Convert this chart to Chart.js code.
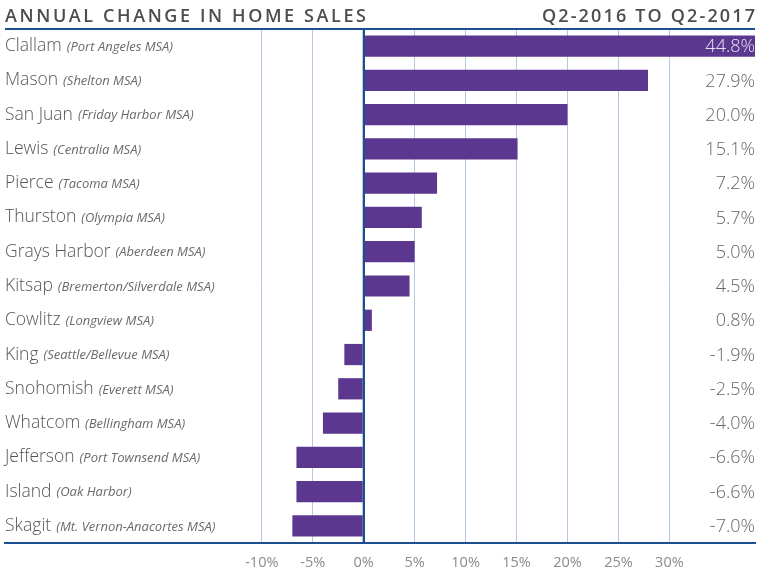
<!DOCTYPE html>
<html>
<head>
<meta charset="utf-8">
<script src="https://cdn.jsdelivr.net/npm/chart.js@4.4.0/dist/chart.umd.min.js"></script>
<style>
  html, body { margin: 0; padding: 0; background: #ffffff; }
  #wrap { position: relative; width: 760px; height: 579px; }
</style>
</head>
<body>
<div id="wrap"><canvas id="c" width="760" height="579"></canvas></div>
<script>
const titleLeft = 'ANNUAL CHANGE IN HOME SALES';
const titleRight = 'Q2-2016 TO Q2-2017';
const categories = ['Clallam', 'Mason', 'San Juan', 'Lewis', 'Pierce', 'Thurston', 'Grays Harbor', 'Kitsap', 'Cowlitz', 'King', 'Snohomish', 'Whatcom', 'Jefferson', 'Island', 'Skagit'];
const subLabels = ['(Port Angeles MSA)', '(Shelton MSA)', '(Friday Harbor MSA)', '(Centralia MSA)', '(Tacoma MSA)', '(Olympia MSA)', '(Aberdeen MSA)', '(Bremerton/Silverdale MSA)', '(Longview MSA)', '(Seattle/Bellevue MSA)', '(Everett MSA)', '(Bellingham MSA)', '(Port Townsend MSA)', '(Oak Harbor)', '(Mt. Vernon-Anacortes MSA)'];
const values = [44.8, 27.9, 20.0, 15.1, 7.2, 5.7, 5.0, 4.5, 0.8, -1.9, -2.5, -4.0, -6.6, -6.6, -7.0];
const tickValues = [-10, -5, 0, 5, 10, 15, 20, 25, 30];

const DARK = '#1d4e8f';
const GRID = '#b3c9e2';
const BAR = '#5c378f';

const overlay = {
  id: 'overlay',
  afterDatasetsDraw(chart) {
    const { ctx, chartArea: a, scales } = chart;
    const x0 = scales.x.getPixelForValue(0);
    ctx.save();
    ctx.strokeStyle = DARK;
    ctx.lineWidth = 2;
    ctx.beginPath();
    ctx.moveTo(x0, a.top);
    ctx.lineTo(x0, a.bottom);
    ctx.stroke();
    ctx.restore();
  },
  afterDraw(chart) {
    const { ctx, chartArea: a, scales } = chart;
    ctx.save();
    // top rule
    ctx.strokeStyle = DARK;
    ctx.lineWidth = 2;
    ctx.beginPath();
    ctx.moveTo(a.left, a.top);
    ctx.lineTo(a.right, a.top);
    ctx.stroke();

    // titles
    ctx.fillStyle = '#4d4d4d';
    ctx.textBaseline = 'alphabetic';
    ctx.font = '600 18px "Open Sans"';
    ctx.letterSpacing = '2.6px';
    ctx.textAlign = 'left';
    ctx.fillText(titleLeft, a.left, 22);
    ctx.textAlign = 'right';
    ctx.letterSpacing = '2.15px';
    ctx.fillText(titleRight, a.right + 2.15, 22);
    ctx.letterSpacing = '0px';

    // category labels
    categories.forEach((name, i) => {
      const y = scales.y.getPixelForValue(i);
      ctx.textAlign = 'left';
      ctx.textBaseline = 'middle';
      ctx.font = '300 17.5px "Open Sans"';
      ctx.fillStyle = '#555555';
      ctx.fillText(name, a.left, y);
      const w = ctx.measureText(name).width;
      ctx.font = 'italic 13px "Open Sans"';
      ctx.fillStyle = '#6a6a6a';
      ctx.fillText(subLabels[i], a.left + w + 5, y + 1);

      // value labels
      ctx.textAlign = 'right';
      ctx.font = '300 18px "Open Sans"';
      const xEnd = scales.x.getPixelForValue(values[i]);
      ctx.fillStyle = xEnd > a.right - 60 ? '#e6e0f0' : '#666666';
      ctx.fillText(values[i].toFixed(1) + '%', a.right, y + 1);
    });
    ctx.restore();
  }
};

new Chart(document.getElementById('c'), {
  type: 'bar',
  data: {
    labels: categories,
    datasets: [{
      data: values,
      backgroundColor: BAR,
      borderWidth: 0,
      barPercentage: 0.62,
      categoryPercentage: 1.0
    }]
  },
  options: {
    indexAxis: 'y',
    responsive: false,
    animation: false,
    events: [],
    layout: { padding: { left: 5, right: 5, top: 29, bottom: 0 } },
    plugins: { legend: { display: false }, tooltip: { enabled: false }, title: { display: false } },
    scales: {
      x: {
        min: -35.2,
        max: 38.4,
        afterBuildTicks(s) { s.ticks = tickValues.map(v => ({ value: v })); },
        afterFit(s) { s.height = 36; },
        ticks: {
          callback: v => v + '%',
          color: '#8a8a8a',
          font: { family: 'Open Sans', size: 14.5 },
          padding: 11,
          maxRotation: 0,
          autoSkip: false
        },
        grid: {
          drawTicks: false,
          color: ctx => (ctx.tick && ctx.tick.value === 0) ? DARK : GRID,
          lineWidth: ctx => (ctx.tick && ctx.tick.value === 0) ? 2 : 1
        },
        border: { display: true, color: DARK, width: 2 }
      },
      y: {
        display: false,
        grid: { display: false }
      }
    }
  },
  plugins: [overlay]
});
</script>
</body>
</html>
